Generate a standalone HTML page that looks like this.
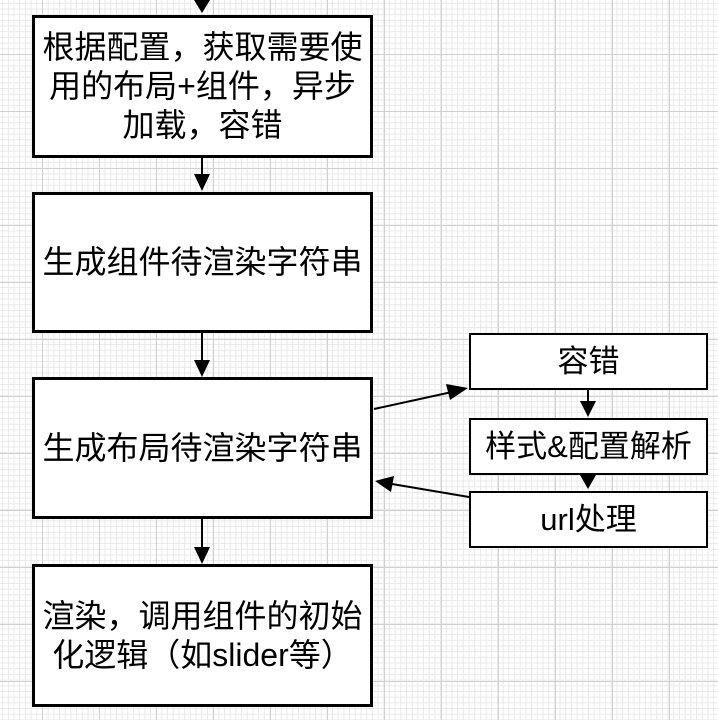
<!DOCTYPE html>
<html><head><meta charset="utf-8"><style>
html,body{margin:0;padding:0}
body{width:718px;height:720px;position:relative;overflow:hidden;background-color:#fff;
background-image:
linear-gradient(to right,#d0d0d0 1px,transparent 1px),
linear-gradient(to bottom,#d0d0d0 1px,transparent 1px),
linear-gradient(to right,#e8e8e8 1px,transparent 1px),
linear-gradient(to bottom,#e8e8e8 1px,transparent 1px);
background-size:57px 57px,57px 57px,5.7px 5.7px,5.7px 5.7px;
background-position:42px 54px,42px 54px,42px 54px,42px 54px;
font-family:"Liberation Sans","Noto Sans CJK SC",sans-serif;}
.b{position:absolute;box-sizing:border-box;background:#fff;border:3px solid #000;display:flex;align-items:center;justify-content:center;text-align:center;font-size:32px;line-height:39px;color:#000}
.s{border-width:2px;font-size:31px}
svg{position:absolute;left:0;top:0}
</style></head><body>
<div class="b" style="left:32px;top:15px;width:341px;height:143px">根据配置，获取需要使<br>用的布局+组件，异步<br>加载，容错</div>
<div class="b" style="left:32px;top:192px;width:341px;height:141px">生成组件待渲染字符串</div>
<div class="b" style="left:32px;top:377px;width:341px;height:142px">生成布局待渲染字符串</div>
<div class="b" style="left:32px;top:564px;width:341px;height:143px">渲染，调用组件的初始<br>化逻辑（如slider等）</div>
<div class="b s" style="left:469px;top:333px;width:239px;height:57px">容错</div>
<div class="b s" style="left:469px;top:418px;width:239px;height:57px">样式&amp;配置解析</div>
<div class="b s" style="left:469px;top:491px;width:239px;height:57px">url处理</div>
<svg width="718" height="720">
<g stroke="#000" stroke-width="2" fill="#000">
<polygon points="194,0 210,0 202,13" stroke="none"/>
<line x1="202" y1="158" x2="202" y2="176"/>
<polygon points="194,174 210,174 202,191" stroke="none"/>
<line x1="202" y1="333" x2="202" y2="362"/>
<polygon points="194,360 210,360 202,377" stroke="none"/>
<line x1="202" y1="519" x2="202" y2="549"/>
<polygon points="194,547 210,547 202,564" stroke="none"/>
<line x1="588" y1="390" x2="588" y2="403"/>
<polygon points="580,401 596,401 588,417" stroke="none"/>
<polygon points="580,475 596,475 588,489" stroke="none"/>
<line x1="374" y1="409" x2="452" y2="392"/>
<polygon points="468,388 450,400 446,384" stroke="none"/>
<line x1="469" y1="497" x2="392" y2="484"/>
<polygon points="375,481 394,476 391,492" stroke="none"/>
</g></svg>
</body></html>
